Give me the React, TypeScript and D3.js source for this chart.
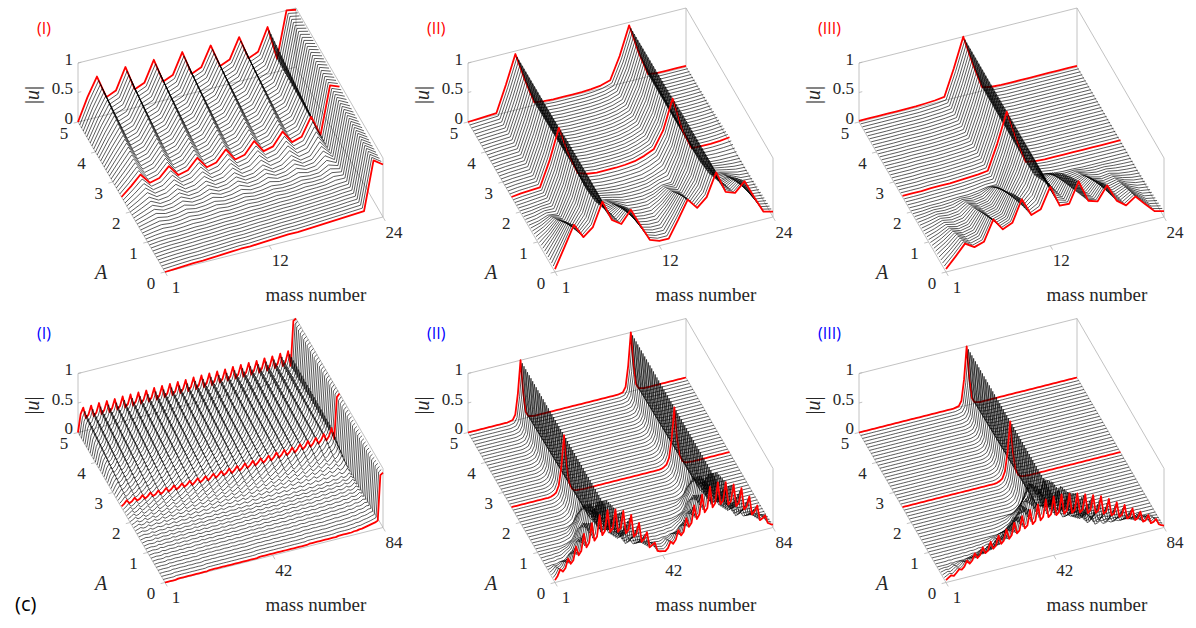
import * as d3 from "d3";

// page projection of the 3-D axes box (pixels)
const EX = [218, -55]; // mass number, first -> last
const EY = [-87, -150]; // A, 0 -> 5
const EZ = 59; // |u|, 0 -> 1
const COL_X = [165, 555, 946];
const ROW_Y = [272, 582.5];

const A_SLICES = d3.range(0, 51).map((i) => i / 10);
const RED_A = [0, 2.5, 5];
const A_TICKS = [0, 1, 2, 3, 4, 5];
const U_TICKS = [0, 0.5, 1];
const U_TICK_LABELS = ["0", "0.5", "1"];
const MASS_TICKS_24 = [1, 12, 24];
const MASS_TICKS_84 = [1, 42, 84];
const TITLES = ["(I)", "(II)", "(III)"];
const TITLE_COLORS = ["#ff0000", "#0000ff"];

const TOP_I_KEYS = [0, 1, 1.5, 2, 2.5, 5];
const topI_A0 = [0, 0.01, 0.02, 0.03, 0.03, 0.04, 0.05, 0.06, 0.07, 0.07, 0.08, 0.09, 0.1, 0.11, 0.11, 0.12, 0.13, 0.14, 0.15, 0.16, 0.17, 0.18, 1.0, 0.89];
const topI_A1 = [0, 0.02, 0.03, 0.03, 0.04, 0.05, 0.05, 0.06, 0.07, 0.07, 0.08, 0.09, 0.09, 0.1, 0.11, 0.11, 0.12, 0.13, 0.14, 0.15, 0.17, 0.18, 1.0, 0.9];
const topI_A15 = [0, 0.04, 0.08, 0.05, 0.06, 0.1, 0.07, 0.08, 0.11, 0.08, 0.09, 0.12, 0.09, 0.1, 0.13, 0.11, 0.12, 0.16, 0.14, 0.15, 0.24, 0.19, 1.0, 0.91];
const topI_A2 = [0, 0.08, 0.17, 0.08, 0.1, 0.19, 0.09, 0.11, 0.2, 0.1, 0.12, 0.22, 0.11, 0.13, 0.23, 0.12, 0.15, 0.27, 0.15, 0.18, 0.38, 0.19, 1.0, 0.92];
const topI_A25 = [0, 0.14, 0.3, 0.12, 0.16, 0.32, 0.13, 0.17, 0.34, 0.14, 0.18, 0.36, 0.15, 0.19, 0.38, 0.17, 0.21, 0.42, 0.2, 0.25, 0.55, 0.2, 1.0, 0.94];
const topI_A5 = [0, 0.38, 0.69, 0.3, 0.37, 0.73, 0.31, 0.38, 0.73, 0.32, 0.39, 0.74, 0.33, 0.4, 0.73, 0.34, 0.41, 0.75, 0.35, 0.42, 0.8, 0.22, 1.0, 0.97];

const TOP_II_KEYS = [0, 0.5, 1, 1.5, 2, 2.5, 5];
const topII_A0 = [0.05, 0.38, 0.72, 0.47, 0.6, 0.99, 0.64, 0.53, 0.73, 0.43, 0.14, 0.08, 0.08, 0.36, 0.66, 0.48, 0.62, 1.0, 0.63, 0.57, 0.73, 0.42, 0.13, 0.09];
const topII_A05 = [0.05, 0.28, 0.52, 0.35, 0.55, 1.0, 0.6, 0.42, 0.54, 0.33, 0.1, 0.06, 0.06, 0.27, 0.5, 0.37, 0.57, 1.0, 0.6, 0.43, 0.53, 0.3, 0.09, 0.07];
const topII_A1 = [0.04, 0.15, 0.3, 0.22, 0.5, 1.0, 0.55, 0.28, 0.32, 0.2, 0.07, 0.05, 0.05, 0.15, 0.3, 0.25, 0.52, 1.0, 0.55, 0.27, 0.3, 0.18, 0.06, 0.05];
const topII_A15 = [0.03, 0.06, 0.12, 0.1, 0.47, 1.0, 0.5, 0.15, 0.14, 0.1, 0.05, 0.04, 0.04, 0.07, 0.14, 0.15, 0.5, 1.0, 0.5, 0.14, 0.12, 0.08, 0.04, 0.03];
const topII_A2 = [0.02, 0.03, 0.05, 0.07, 0.45, 1.0, 0.47, 0.1, 0.06, 0.04, 0.03, 0.03, 0.04, 0.05, 0.1, 0.18, 0.47, 1.0, 0.45, 0.08, 0.04, 0.03, 0.03, 0.03];
const topII_A25 = [0, 0.02, 0.03, 0.04, 0.45, 0.97, 0.5, 0.12, 0.07, 0.05, 0.05, 0.05, 0.06, 0.08, 0.13, 0.2, 0.48, 0.98, 0.42, 0.06, 0.05, 0.05, 0.06, 0.08];
const topII_A5 = [0, 0.01, 0.02, 0.03, 0.47, 0.95, 0.47, 0.05, 0.03, 0.02, 0.02, 0.02, 0.02, 0.03, 0.05, 0.1, 0.47, 0.95, 0.45, 0.04, 0.02, 0.02, 0.02, 0.02];

const TOP_III_KEYS = [0, 0.5, 1, 1.5, 2, 2.5, 5];
const topIII_A0 = [0.05, 0.22, 0.4, 0.3, 0.35, 0.69, 0.48, 0.55, 0.91, 0.6, 0.66, 1.0, 0.64, 0.63, 0.97, 0.6, 0.55, 0.78, 0.48, 0.36, 0.47, 0.3, 0.14, 0.1];
const topIII_A05 = [0.05, 0.16, 0.3, 0.22, 0.26, 0.52, 0.37, 0.42, 0.75, 0.5, 0.64, 1.0, 0.63, 0.52, 0.8, 0.46, 0.42, 0.6, 0.37, 0.27, 0.35, 0.22, 0.1, 0.07];
const topIII_A1 = [0.04, 0.1, 0.18, 0.14, 0.17, 0.35, 0.26, 0.3, 0.55, 0.38, 0.62, 1.0, 0.62, 0.4, 0.6, 0.32, 0.28, 0.4, 0.25, 0.18, 0.22, 0.13, 0.07, 0.05];
const topIII_A15 = [0.03, 0.06, 0.1, 0.08, 0.1, 0.2, 0.15, 0.18, 0.35, 0.25, 0.58, 1.0, 0.58, 0.25, 0.35, 0.18, 0.15, 0.2, 0.12, 0.08, 0.1, 0.06, 0.04, 0.03];
const topIII_A2 = [0.02, 0.02, 0.03, 0.03, 0.04, 0.05, 0.05, 0.07, 0.1, 0.1, 0.52, 1.0, 0.52, 0.1, 0.08, 0.05, 0.04, 0.04, 0.03, 0.03, 0.03, 0.03, 0.03, 0.03];
const topIII_A25 = [0.02, 0.02, 0.02, 0.03, 0.03, 0.03, 0.04, 0.05, 0.06, 0.08, 0.5, 1.0, 0.5, 0.07, 0.04, 0.03, 0.03, 0.03, 0.03, 0.03, 0.03, 0.03, 0.03, 0.03];
const topIII_A5 = [0.02, 0.02, 0.02, 0.02, 0.02, 0.02, 0.02, 0.03, 0.04, 0.06, 0.5, 1.0, 0.5, 0.06, 0.03, 0.02, 0.02, 0.02, 0.02, 0.02, 0.02, 0.02, 0.02, 0.02];

// ---- bottom row, 84 masses ----
const BOT_I_KEYS = [0, 1.5, 2.5, 5];
const botI_A0 = [
  0, 0, 0, 0, 0, 0.01, 0.01, 0.01, 0.01, 0.01, 0.01, 0.01,
  0.01, 0.01, 0.01, 0.01, 0.01, 0.02, 0.02, 0.02, 0.02, 0.02, 0.02, 0.02,
  0.02, 0.02, 0.02, 0.02, 0.02, 0.02, 0.02, 0.02, 0.02, 0.02, 0.02, 0.02,
  0.03, 0.03, 0.03, 0.03, 0.03, 0.03, 0.03, 0.03, 0.03, 0.03, 0.03, 0.03,
  0.03, 0.03, 0.03, 0.03, 0.03, 0.03, 0.03, 0.04, 0.04, 0.04, 0.04, 0.04,
  0.04, 0.04, 0.04, 0.04, 0.04, 0.04, 0.05, 0.05, 0.05, 0.05, 0.05, 0.05,
  0.06, 0.06, 0.07, 0.07, 0.08, 0.09, 0.1, 0.11, 0.12, 0.14, 0.9, 0.93,
];
const botI_A15 = [
  0.01, 0.02, 0.03, 0.02, 0.02, 0.04, 0.02, 0.03, 0.04, 0.03, 0.03, 0.05,
  0.03, 0.04, 0.05, 0.03, 0.04, 0.05, 0.04, 0.04, 0.06, 0.04, 0.05, 0.06,
  0.04, 0.05, 0.06, 0.05, 0.05, 0.07, 0.05, 0.06, 0.07, 0.05, 0.06, 0.07,
  0.06, 0.06, 0.08, 0.06, 0.07, 0.08, 0.06, 0.07, 0.09, 0.07, 0.07, 0.09,
  0.07, 0.08, 0.09, 0.07, 0.08, 0.1, 0.08, 0.09, 0.1, 0.08, 0.09, 0.11,
  0.09, 0.1, 0.11, 0.09, 0.1, 0.12, 0.1, 0.11, 0.13, 0.11, 0.12, 0.14,
  0.12, 0.13, 0.15, 0.13, 0.14, 0.17, 0.14, 0.15, 0.2, 0.15, 0.92, 0.95,
];
const botI_A25 = [
  0.02, 0.05, 0.1, 0.04, 0.06, 0.11, 0.05, 0.07, 0.12, 0.05, 0.08, 0.13,
  0.06, 0.08, 0.13, 0.06, 0.09, 0.14, 0.07, 0.1, 0.15, 0.07, 0.1, 0.15,
  0.08, 0.11, 0.16, 0.08, 0.12, 0.17, 0.09, 0.12, 0.17, 0.09, 0.13, 0.18,
  0.1, 0.14, 0.19, 0.11, 0.14, 0.2, 0.11, 0.15, 0.21, 0.12, 0.16, 0.22,
  0.13, 0.17, 0.23, 0.14, 0.18, 0.24, 0.15, 0.19, 0.25, 0.16, 0.2, 0.27,
  0.17, 0.21, 0.28, 0.18, 0.22, 0.29, 0.19, 0.24, 0.31, 0.21, 0.25, 0.33,
  0.22, 0.27, 0.35, 0.24, 0.29, 0.38, 0.26, 0.32, 0.45, 0.25, 0.95, 1.0,
];
const botI_A5 = [
  0, 0.3, 0.4, 0.21, 0.26, 0.4, 0.21, 0.26, 0.41, 0.21, 0.27, 0.41,
  0.21, 0.27, 0.41, 0.22, 0.27, 0.42, 0.22, 0.27, 0.42, 0.22, 0.28, 0.42,
  0.22, 0.28, 0.42, 0.22, 0.28, 0.43, 0.22, 0.28, 0.43, 0.23, 0.28, 0.43,
  0.23, 0.28, 0.43, 0.23, 0.29, 0.43, 0.23, 0.29, 0.44, 0.23, 0.29, 0.44,
  0.23, 0.29, 0.44, 0.23, 0.29, 0.44, 0.24, 0.29, 0.44, 0.24, 0.3, 0.45,
  0.24, 0.3, 0.45, 0.24, 0.3, 0.45, 0.24, 0.3, 0.45, 0.24, 0.3, 0.46,
  0.24, 0.3, 0.46, 0.25, 0.31, 0.47, 0.25, 0.31, 0.48, 0.22, 0.97, 1.0,
];

const BOT_II_KEYS = [0, 0.5, 1, 1.5, 5];
const botII_A0 = [
  0.04, 0.1, 0.2, 0.15, 0.2, 0.35, 0.25, 0.3, 0.52, 0.36, 0.42, 0.7,
  0.46, 0.53, 0.85, 0.54, 0.6, 0.95, 0.6, 0.66, 1.0, 0.62, 0.67, 0.98,
  0.59, 0.64, 0.92, 0.53, 0.58, 0.82, 0.44, 0.48, 0.65, 0.32, 0.36, 0.46,
  0.19, 0.22, 0.25, 0.1, 0.08, 0.07, 0.06, 0.1, 0.2, 0.15, 0.21, 0.36,
  0.26, 0.31, 0.53, 0.37, 0.43, 0.71, 0.47, 0.54, 0.86, 0.55, 0.61, 0.96,
  0.6, 0.66, 1.0, 0.62, 0.67, 0.97, 0.58, 0.63, 0.9, 0.52, 0.57, 0.8,
  0.43, 0.47, 0.63, 0.31, 0.35, 0.44, 0.18, 0.2, 0.24, 0.1, 0.07, 0.05,
];
const botII_A05 = [
  0.01, 0.01, 0.02, 0.02, 0.02, 0.04, 0.04, 0.05, 0.1, 0.15, 0.18, 0.3,
  0.33, 0.38, 0.6, 0.5, 0.56, 0.88, 0.6, 0.66, 1.0, 0.55, 0.6, 0.88,
  0.38, 0.42, 0.6, 0.19, 0.21, 0.3, 0.07, 0.08, 0.1, 0.03, 0.03, 0.03,
  0.02, 0.02, 0.02, 0.02, 0.02, 0.02, 0.01, 0.01, 0.02, 0.02, 0.02, 0.04,
  0.04, 0.05, 0.1, 0.15, 0.18, 0.3, 0.33, 0.38, 0.6, 0.5, 0.56, 0.88,
  0.6, 0.66, 1.0, 0.55, 0.6, 0.88, 0.38, 0.42, 0.6, 0.19, 0.21, 0.3,
  0.07, 0.08, 0.1, 0.03, 0.03, 0.03, 0.02, 0.02, 0.02, 0.02, 0.02, 0.02,
];
const botII_A1 = [
  0.01, 0.01, 0.01, 0.01, 0.01, 0.01, 0.01, 0.01, 0.01, 0.01, 0.02, 0.03,
  0.05, 0.07, 0.15, 0.3, 0.38, 0.6, 0.55, 0.62, 1.0, 0.38, 0.42, 0.6,
  0.1, 0.11, 0.15, 0.03, 0.03, 0.03, 0.01, 0.01, 0.01, 0.01, 0.01, 0.01,
  0.01, 0.01, 0.01, 0.01, 0.01, 0.01, 0.01, 0.01, 0.01, 0.01, 0.01, 0.01,
  0.01, 0.01, 0.01, 0.01, 0.02, 0.03, 0.05, 0.07, 0.15, 0.3, 0.38, 0.6,
  0.55, 0.62, 1.0, 0.38, 0.42, 0.6, 0.1, 0.11, 0.15, 0.03, 0.03, 0.03,
  0.01, 0.01, 0.01, 0.01, 0.01, 0.01, 0.01, 0.01, 0.01, 0.01, 0.01, 0.01,
];
const botII_A15 = [
  0.01, 0.01, 0.01, 0.01, 0.01, 0.01, 0.01, 0.01, 0.01, 0.01, 0.01, 0.01,
  0.01, 0.01, 0.01, 0.02, 0.04, 0.08, 0.2, 0.5, 1.0, 0.5, 0.2, 0.08,
  0.03, 0.02, 0.02, 0.01, 0.01, 0.01, 0.01, 0.01, 0.01, 0.01, 0.01, 0.01,
  0.01, 0.01, 0.01, 0.01, 0.01, 0.01, 0.01, 0.01, 0.01, 0.01, 0.01, 0.01,
  0.01, 0.01, 0.01, 0.01, 0.01, 0.01, 0.01, 0.01, 0.01, 0.02, 0.04, 0.08,
  0.2, 0.5, 1.0, 0.5, 0.2, 0.08, 0.03, 0.02, 0.02, 0.01, 0.01, 0.01,
  0.01, 0.01, 0.01, 0.01, 0.01, 0.01, 0.01, 0.01, 0.01, 0.01, 0.01, 0.01,
];
const botII_A5 = [
  0, 0, 0, 0, 0, 0, 0, 0, 0, 0, 0, 0,
  0, 0, 0, 0, 0.01, 0.02, 0.1, 0.45, 1.0, 0.45, 0.1, 0.02,
  0.01, 0, 0, 0, 0, 0, 0, 0, 0, 0, 0, 0,
  0, 0, 0, 0, 0, 0, 0, 0, 0, 0, 0, 0,
  0, 0, 0, 0, 0, 0, 0, 0, 0, 0, 0.01, 0.02,
  0.1, 0.45, 1.0, 0.45, 0.1, 0.02, 0.01, 0, 0, 0, 0, 0,
  0, 0, 0, 0, 0, 0, 0, 0, 0, 0, 0, 0,
];

const BOT_III_KEYS = [0, 0.5, 1, 1.5, 5];
const botIII_A0 = [
  0.04, 0.07, 0.1, 0.08, 0.12, 0.17, 0.15, 0.19, 0.28, 0.22, 0.26, 0.37,
  0.28, 0.32, 0.44, 0.33, 0.36, 0.5, 0.37, 0.41, 0.57, 0.42, 0.46, 0.64,
  0.47, 0.52, 0.72, 0.53, 0.57, 0.8, 0.58, 0.62, 0.87, 0.62, 0.66, 0.93,
  0.65, 0.7, 0.98, 0.67, 0.71, 1.0, 0.67, 0.71, 1.0, 0.66, 0.7, 0.98,
  0.64, 0.68, 0.95, 0.61, 0.65, 0.9, 0.57, 0.61, 0.85, 0.54, 0.57, 0.8,
  0.49, 0.52, 0.72, 0.43, 0.45, 0.63, 0.37, 0.4, 0.55, 0.31, 0.33, 0.46,
  0.25, 0.27, 0.37, 0.19, 0.2, 0.28, 0.13, 0.14, 0.18, 0.08, 0.05, 0.03,
];
const botIII_A05 = [
  0.01, 0.01, 0.01, 0.01, 0.01, 0.02, 0.01, 0.02, 0.02, 0.02, 0.02, 0.03,
  0.02, 0.03, 0.04, 0.03, 0.04, 0.06, 0.05, 0.07, 0.1, 0.1, 0.13, 0.2,
  0.2, 0.24, 0.35, 0.32, 0.36, 0.52, 0.46, 0.5, 0.7, 0.57, 0.62, 0.85,
  0.64, 0.69, 0.95, 0.68, 0.72, 1.0, 0.65, 0.69, 0.95, 0.58, 0.62, 0.85,
  0.47, 0.5, 0.7, 0.34, 0.36, 0.52, 0.22, 0.24, 0.35, 0.12, 0.13, 0.2,
  0.06, 0.07, 0.1, 0.04, 0.04, 0.06, 0.03, 0.03, 0.04, 0.02, 0.02, 0.03,
  0.02, 0.02, 0.02, 0.01, 0.01, 0.02, 0.01, 0.01, 0.01, 0.01, 0.01, 0.01,
];
const botIII_A1 = [
  0.01, 0.01, 0.01, 0.01, 0.01, 0.01, 0.01, 0.01, 0.01, 0.01, 0.01, 0.01,
  0.01, 0.01, 0.01, 0.01, 0.01, 0.01, 0.01, 0.01, 0.01, 0.01, 0.01, 0.01,
  0.01, 0.01, 0.01, 0.02, 0.03, 0.05, 0.08, 0.1, 0.15, 0.25, 0.28, 0.4,
  0.5, 0.54, 0.75, 0.68, 0.72, 1.0, 0.52, 0.55, 0.75, 0.27, 0.29, 0.4,
  0.1, 0.11, 0.15, 0.03, 0.03, 0.05, 0.01, 0.01, 0.01, 0.01, 0.01, 0.01,
  0.01, 0.01, 0.01, 0.01, 0.01, 0.01, 0.01, 0.01, 0.01, 0.01, 0.01, 0.01,
  0.01, 0.01, 0.01, 0.01, 0.01, 0.01, 0.01, 0.01, 0.01, 0.01, 0.01, 0.01,
];
const botIII_A15 = [
  0.01, 0.01, 0.01, 0.01, 0.01, 0.01, 0.01, 0.01, 0.01, 0.01, 0.01, 0.01,
  0.01, 0.01, 0.01, 0.01, 0.01, 0.01, 0.01, 0.01, 0.01, 0.01, 0.01, 0.01,
  0.01, 0.01, 0.01, 0.01, 0.01, 0.01, 0.01, 0.01, 0.01, 0.01, 0.01, 0.01,
  0.02, 0.04, 0.08, 0.2, 0.5, 1.0, 0.5, 0.2, 0.08, 0.03, 0.02, 0.02,
  0.01, 0.01, 0.01, 0.01, 0.01, 0.01, 0.01, 0.01, 0.01, 0.01, 0.01, 0.01,
  0.01, 0.01, 0.01, 0.01, 0.01, 0.01, 0.01, 0.01, 0.01, 0.01, 0.01, 0.01,
  0.01, 0.01, 0.01, 0.01, 0.01, 0.01, 0.01, 0.01, 0.01, 0.01, 0.01, 0.01,
];
const botIII_A5 = [
  0, 0, 0, 0, 0, 0, 0, 0, 0, 0, 0, 0,
  0, 0, 0, 0, 0, 0, 0, 0, 0, 0, 0, 0,
  0, 0, 0, 0, 0, 0, 0, 0, 0, 0, 0, 0,
  0, 0.01, 0.02, 0.1, 0.45, 1.0, 0.45, 0.1, 0.02, 0.01, 0, 0,
  0, 0, 0, 0, 0, 0, 0, 0, 0, 0, 0, 0,
  0, 0, 0, 0, 0, 0, 0, 0, 0, 0, 0, 0,
  0, 0, 0, 0, 0, 0, 0, 0, 0, 0, 0, 0,
];

const PANELS = [
  { row: 0, col: 0, n: 24, ticks: MASS_TICKS_24, keys: TOP_I_KEYS, rows: [topI_A0, topI_A1, topI_A15, topI_A2, topI_A25, topI_A5] },
  { row: 0, col: 1, n: 24, ticks: MASS_TICKS_24, keys: TOP_II_KEYS, rows: [topII_A0, topII_A05, topII_A1, topII_A15, topII_A2, topII_A25, topII_A5] },
  { row: 0, col: 2, n: 24, ticks: MASS_TICKS_24, keys: TOP_III_KEYS, rows: [topIII_A0, topIII_A05, topIII_A1, topIII_A15, topIII_A2, topIII_A25, topIII_A5] },
  { row: 1, col: 0, n: 84, ticks: MASS_TICKS_84, keys: BOT_I_KEYS, rows: [botI_A0, botI_A15, botI_A25, botI_A5] },
  { row: 1, col: 1, n: 84, ticks: MASS_TICKS_84, keys: BOT_II_KEYS, rows: [botII_A0, botII_A05, botII_A1, botII_A15, botII_A5] },
  { row: 1, col: 2, n: 84, ticks: MASS_TICKS_84, keys: BOT_III_KEYS, rows: [botIII_A0, botIII_A05, botIII_A1, botIII_A15, botIII_A5] },
];

const SERIF = { fontFamily: "Liberation Serif, DejaVu Serif, serif" };
const SANS = { fontFamily: "Open Sans, Liberation Sans, sans-serif" };
const BOX = "#b3b3b3";
const INK = "#262626";

type PanelProps = {
  row: number;
  col: number;
  n: number;
  ticks: number[];
  keys: number[];
  rows: number[][];
};

function Panel({ row, col, n, ticks, keys, rows }: PanelProps) {
  const ox = COL_X[col];
  const oy = ROW_Y[row];

  const mx = d3.scaleLinear().domain([1, n]).range([0, 1]);
  const ay = d3.scaleLinear().domain([0, 5]).range([0, 1]);
  const uz = d3.scaleLinear().domain([0, 1]).range([0, EZ]);
  const px = (m: number, a: number) => ox + mx(m) * EX[0] + ay(a) * EY[0];
  const py = (m: number, a: number, u: number) =>
    oy + mx(m) * EX[1] + ay(a) * EY[1] - uz(u);

  // slices between the read-off ones are blended by the scale
  const sliceAt = d3
    .scaleLinear<any, any>()
    .domain(keys)
    .range(rows)
    .clamp(true);

  const slices = A_SLICES.slice()
    .reverse()
    .map((a) => {
      const prof: number[] = (sliceAt(a) as number[]).slice();
      const line = d3
        .line<number>()
        .x((_, i) => px(i + 1, a))
        .y((u, i) => py(i + 1, a, u));
      return { a, d: line(prof) ?? "", red: RED_A.includes(a) };
    });

  const edges: [number, number, number][][] = [
    [[1, 0, 0], [n, 0, 0]],
    [[1, 0, 0], [1, 5, 0]],
    [[1, 5, 0], [n, 5, 0]],
    [[n, 0, 0], [n, 5, 0]],
    [[1, 5, 0], [1, 5, 1]],
    [[n, 5, 0], [n, 5, 1]],
    [[n, 0, 0], [n, 0, 1]],
    [[1, 5, 1], [n, 5, 1]],
    [[n, 0, 1], [n, 5, 1]],
  ];

  const titleY = row === 0 ? oy - 244 : oy - 249.5;

  return (
    <g>
      {edges.map(([p, q], i) => (
        <line
          key={`e${i}`}
          x1={px(p[0], p[1])}
          y1={py(p[0], p[1], p[2])}
          x2={px(q[0], q[1])}
          y2={py(q[0], q[1], q[2])}
          stroke={BOX}
          strokeWidth={0.8}
        />
      ))}

      {ticks.map((m) => (
        <line
          key={`mt${m}`}
          x1={px(m, 0)}
          y1={py(m, 0, 0)}
          x2={px(m, -0.13)}
          y2={py(m, -0.13, 0)}
          stroke={BOX}
          strokeWidth={0.8}
        />
      ))}
      {A_TICKS.map((a) => (
        <line
          key={`at${a}`}
          x1={px(1, a)}
          y1={py(1, a, 0)}
          x2={px(1 - (n - 1) * 0.02, a)}
          y2={py(1 - (n - 1) * 0.02, a, 0)}
          stroke={BOX}
          strokeWidth={0.8}
        />
      ))}
      {U_TICKS.map((u) => (
        <line
          key={`ut${u}`}
          x1={px(1, 5)}
          y1={py(1, 5, u)}
          x2={px(1 + (n - 1) * 0.015, 5)}
          y2={py(1 + (n - 1) * 0.015, 5, u)}
          stroke={BOX}
          strokeWidth={0.8}
        />
      ))}

      {slices.map((s) => (
        <path
          key={`s${s.a}`}
          d={s.d}
          fill="none"
          stroke={s.red ? "#ff0000" : "#000000"}
          strokeWidth={s.red ? 1.8 : 0.65}
          strokeLinejoin="round"
        />
      ))}

      {ticks.map((m) => (
        <text
          key={`ml${m}`}
          x={px(m, 0) + 11}
          y={py(m, 0, 0) + 15}
          textAnchor="middle"
          dominantBaseline="central"
          style={SERIF}
          fontSize={17}
          fill={INK}
        >
          {m}
        </text>
      ))}
      {A_TICKS.map((a) => (
        <text
          key={`al${a}`}
          x={px(1, a) - 14}
          y={py(1, a, 0) + 11}
          textAnchor="middle"
          dominantBaseline="central"
          style={SERIF}
          fontSize={17}
          fill={INK}
        >
          {a}
        </text>
      ))}
      {U_TICKS.map((u, i) => (
        <text
          key={`ul${u}`}
          x={px(1, 5) - 5}
          y={py(1, 5, u) - 4}
          textAnchor="end"
          dominantBaseline="central"
          style={SERIF}
          fontSize={17}
          fill={INK}
        >
          {U_TICK_LABELS[i]}
        </text>
      ))}

      <text
        x={ox + 151}
        y={oy + 22}
        textAnchor="middle"
        dominantBaseline="central"
        style={SERIF}
        fontSize={19}
        fill={INK}
      >
        mass number
      </text>
      <text
        x={ox - 64}
        y={oy}
        textAnchor="middle"
        dominantBaseline="central"
        style={SERIF}
        fontStyle="italic"
        fontSize={20}
        fill={INK}
      >
        A
      </text>
      <text
        transform={`translate(${ox - 133},${oy - 177}) rotate(-90)`}
        textAnchor="middle"
        dominantBaseline="central"
        style={SERIF}
        fontSize={20}
        fill={INK}
      >
        |<tspan fontStyle="italic">u</tspan>|
      </text>

      <text
        x={ox - 128}
        y={titleY}
        dominantBaseline="central"
        style={SANS}
        fontSize={16}
        fill={TITLE_COLORS[row]}
      >
        {TITLES[col]}
      </text>
    </g>
  );
}

export default function App() {
  return (
    <div
      style={{
        position: "absolute",
        left: 0,
        top: 0,
        width: 1196,
        height: 628,
        background: "#ffffff",
      }}
    >
      <svg width={1196} height={628} style={{ display: "block" }}>
        <rect width={1196} height={628} fill="#ffffff" />
        {PANELS.map((p, i) => (
          <Panel key={i} {...p} />
        ))}
        <text
          x={15}
          y={603}
          dominantBaseline="central"
          style={SANS}
          fontSize={20}
          fill="#000000"
        >
          (c)
        </text>
      </svg>
    </div>
  );
}
